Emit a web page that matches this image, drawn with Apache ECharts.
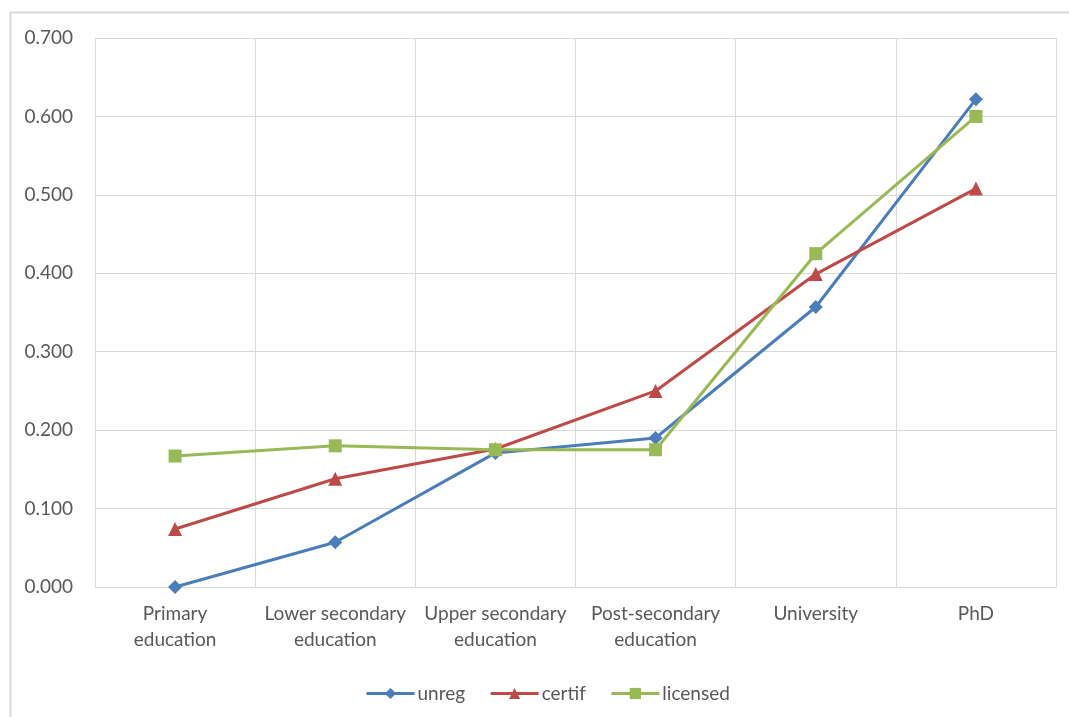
<!DOCTYPE html>
<html>
<head>
<meta charset="utf-8">
<script src="https://cdn.jsdelivr.net/npm/echarts@6/dist/echarts.min.js"></script>
<style>
  html, body { margin: 0; padding: 0; background: #fff; }
  #chart { width: 1069px; height: 717px; }
</style>
</head>
<body>
<div id="chart"></div>
<script>
// Education levels on the x axis
const categories = [
  'Primary\neducation',
  'Lower secondary\neducation',
  'Upper secondary\neducation',
  'Post-secondary\neducation',
  'University',
  'PhD'
];

// Series values per education level
const unreg    = [0.000, 0.057, 0.171, 0.190, 0.357, 0.622];
const certif   = [0.074, 0.138, 0.176, 0.250, 0.399, 0.508];
const licensed = [0.167, 0.180, 0.175, 0.175, 0.425, 0.600];

const FONT = 'Lato, "Open Sans", sans-serif';
const TEXT = '#595959';
const GRID = '#d9d9d9';

const chart = echarts.init(document.getElementById('chart'), null, { renderer: 'canvas' });

function lineSeries(name, data, color, symbol, size) {
  return {
    name, type: 'line', data,
    symbol, symbolSize: size,
    showAllSymbol: true,
    lineStyle: { color, width: 3 },
    itemStyle: { color },
    emphasis: { disabled: true }
  };
}

chart.setOption({
  animation: false,
  textStyle: { fontFamily: FONT },
  graphic: [{
    type: 'rect',
    shape: { x: 10.5, y: 12.5, width: 1100, height: 800 },
    style: { fill: 'none', stroke: GRID, lineWidth: 2 },
    z: -1
  }],
  grid: { left: 95, right: 13, top: 38, bottom: 130 },
  legend: {
    top: 679,
    left: 360,
    itemWidth: 48,
    itemHeight: 14,
    itemGap: 24,
    lineStyle: { width: 3 },
    textStyle: { color: TEXT, fontSize: 19, fontFamily: FONT, padding: [0, 0, 0, -2] },
    data: ['unreg', 'certif', 'licensed']
  },
  xAxis: {
    type: 'category',
    data: categories,
    boundaryGap: true,
    axisLine: { lineStyle: { color: GRID, width: 1 } },
    axisTick: { show: false },
    splitLine: { show: true, lineStyle: { color: GRID, width: 1 } },
    axisLabel: {
      color: TEXT, fontSize: 19, lineHeight: 26, margin: 14,
      interval: 0, fontFamily: FONT
    }
  },
  yAxis: {
    type: 'value',
    min: 0, max: 0.7, interval: 0.1,
    axisLine: { show: false },
    axisTick: { show: false },
    splitLine: { lineStyle: { color: GRID, width: 1 } },
    axisLabel: {
      color: TEXT, fontSize: 19, margin: 22, fontFamily: FONT,
      formatter: v => v.toFixed(3)
    }
  },
  series: [
    lineSeries('unreg', unreg, '#4a7ebb', 'diamond', 14),
    lineSeries('certif', certif, '#be4b48', 'triangle', 14),
    lineSeries('licensed', licensed, '#98b954', 'rect', 13)
  ]
});
</script>
</body>
</html>
